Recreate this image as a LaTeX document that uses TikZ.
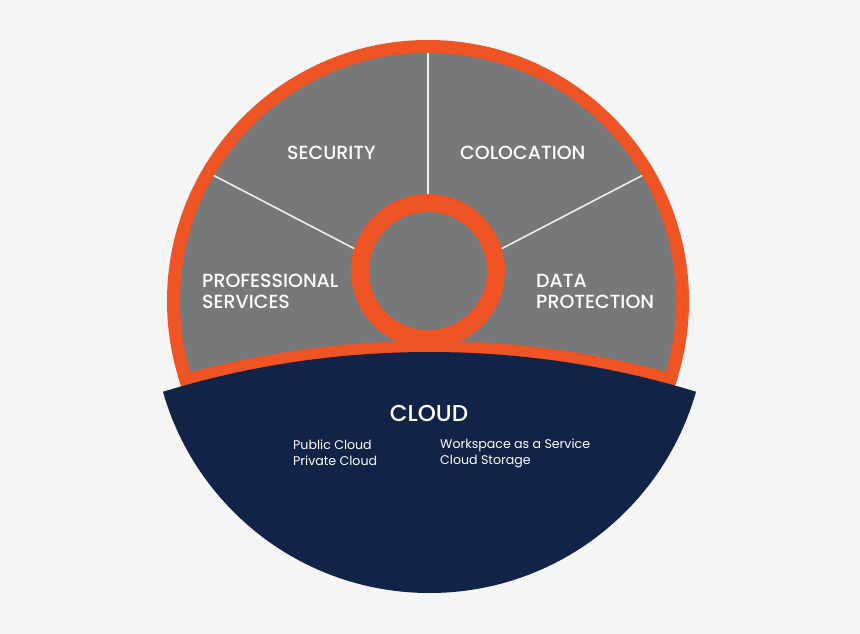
\documentclass[tikz,border=0pt]{standalone}
\usepackage{fontspec}
\setmainfont{Poppins}
\newfontfamily\medfont{Poppins Medium}
\definecolor{BgGrey}{HTML}{F5F5F5}
\definecolor{Flame}{HTML}{EE5424}
\definecolor{Slate}{HTML}{77787A}
\definecolor{Navy}{HTML}{112347}

\begin{document}
\begin{tikzpicture}[x=1pt, y=-1pt,
  every node/.style={text=white, inner sep=0pt},
  sector/.style={font=\medfont\fontsize{19}{21}\selectfont, align=left, anchor=west},
  offer/.style={font=\fontsize{12.6}{16}\selectfont, align=left, anchor=west}]
\useasboundingbox[fill=BgGrey] (0,0) rectangle (860,634);
% outer ring and grey field
\fill[Flame] (428,301) circle[radius=261];
\fill[Slate] (428,301) circle[radius=248];
% spokes
\begin{scope}
\clip (428,301) circle[radius=248];
\foreach \a in {-27.5,-90,-152.5}
  \draw[white!88!Slate, line width=1.6pt] (428,287) -- ++(\a:300);
\end{scope}
% hub
\fill[Flame] (428,271) circle[radius=77];
\fill[Slate] (428,271) circle[radius=59];
% orange band over the cloud
\begin{scope}
\clip (428,301) circle[radius=261];
\fill[Flame] (429.5,1260) circle[radius=919];
\end{scope}
% cloud segment
\begin{scope}
\clip (429.5,1260) circle[radius=908];
\fill[Navy] (429.5,316) circle[radius=277];
\end{scope}

\node[sector] (security) at (287,153) {SECURITY};
\node[sector] (colocation) at (460,153) {COLOCATION};
\node[sector] (profserv) at (202,291.5) {PROFESSIONAL\\SERVICES};
\node[sector] (dataprot) at (536,291.5) {DATA\\PROTECTION};
\node[font=\medfont\fontsize{23}{24}\selectfont] (cloud) at (429,413) {CLOUD};
\node[offer] (pubpriv) at (293,452.5) {Public Cloud\\Private Cloud};
\node[offer] (waas) at (440,453) {Workspace as a Service\\Cloud Storage};
\end{tikzpicture}
\end{document}
